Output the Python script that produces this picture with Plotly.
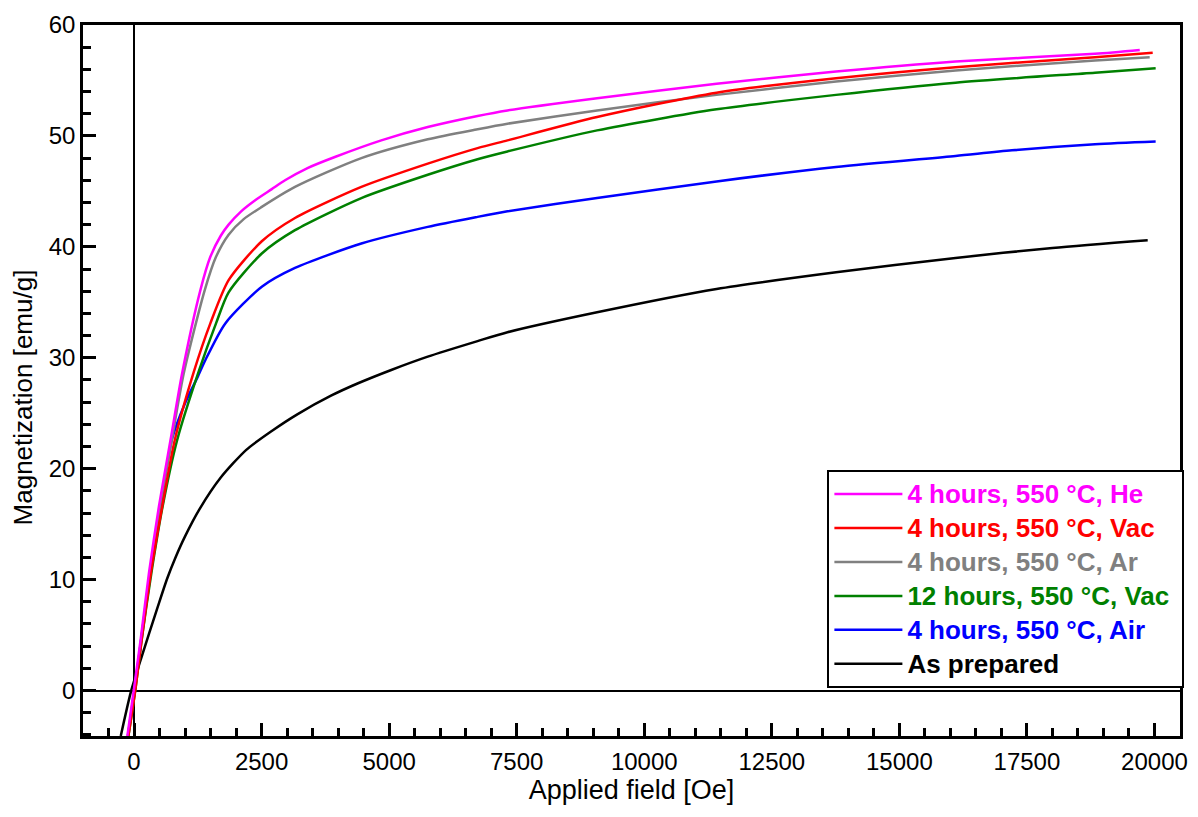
import plotly.graph_objects as go

# Magnetization curves M(H) for samples annealed under different atmospheres
field_he = [-130, 0, 130, 293, 488, 716, 943, 1301, 1496, 1700, 1854, 2100, 2375, 2700, 2960, 3400, 3936, 4846, 5757, 6733, 7319, 9075, 11417, 13759, 16101, 18833, 19711]
mag_he = [-4.1, 0.2, 4.6, 10.6, 16.6, 22.6, 28.6, 36.1, 39.1, 41.0, 42.0, 43.2, 44.2, 45.2, 46.0, 47.1, 48.1, 49.6, 50.8, 51.8, 52.3, 53.4, 54.7, 55.8, 56.7, 57.4, 57.75]

field_vac = [-110, 30, 150, 330, 553, 800, 1170, 1496, 1854, 2504, 3155, 4456, 5757, 6733, 7319, 9075, 11417, 13759, 16101, 18833, 19965]
mag_vac = [-4.1, 0.2, 4.6, 10.6, 16.6, 22.6, 28.7, 33.1, 37.0, 40.5, 42.6, 45.4, 47.5, 48.9, 49.6, 51.7, 53.9, 55.2, 56.2, 57.1, 57.5]

field_ar = [-120, 10, 140, 310, 510, 740, 975, 1386, 1607, 1854, 2150, 2504, 3155, 4456, 5757, 6733, 7319, 9075, 11417, 13759, 16101, 18833, 19906]
mag_ar = [-4.1, 0.2, 4.6, 10.6, 16.6, 22.6, 28.6, 36.1, 39.1, 41.1, 42.5, 43.6, 45.4, 48.0, 49.7, 50.6, 51.1, 52.3, 53.7, 54.9, 55.9, 56.8, 57.1]

field_vac12 = [-110, 30, 150, 340, 560, 846, 1270, 1607, 1854, 2504, 3155, 4456, 5757, 6733, 7319, 9075, 11417, 13759, 16101, 18833, 20023]
mag_vac12 = [-4.1, 0.2, 4.6, 10.6, 16.6, 22.6, 28.8, 33.1, 35.9, 39.4, 41.5, 44.4, 46.5, 47.9, 48.6, 50.5, 52.4, 53.7, 54.8, 55.7, 56.1]

field_air = [-120, 20, 140, 320, 520, 740, 1000, 1250, 1399, 1789, 2504, 3155, 4456, 5757, 6733, 7319, 9075, 11417, 13759, 16101, 17207, 18833, 20023]
mag_air = [-4.1, 0.2, 4.6, 10.6, 16.6, 22.6, 25.9, 28.3, 29.8, 33.1, 36.4, 38.1, 40.3, 41.8, 42.7, 43.2, 44.4, 45.9, 47.2, 48.2, 48.7, 49.25, 49.5]

field_prep = [-260, -60, 160, 293, 455, 650, 813, 1000, 1290, 1700, 2200, 2700, 3200, 3870, 4391, 5041, 5757, 6733, 7319, 9075, 11417, 13759, 16101, 18000, 19867]
mag_prep = [-4.1, -0.1, 3.2, 5.1, 7.4, 10.1, 12.0, 13.9, 16.4, 19.2, 21.7, 23.4, 24.9, 26.6, 27.7, 28.9, 30.1, 31.5, 32.3, 34.1, 36.2, 37.7, 39.0, 39.9, 40.6]

# drawing order: bottom-most first; legend lists them in reverse
series = [
    ("As prepared", field_prep, mag_prep, "#000000"),
    ("4 hours, 550 °C, Air", field_air, mag_air, "#0000FF"),
    ("12 hours, 550 °C, Vac", field_vac12, mag_vac12, "#008000"),
    ("4 hours, 550 °C, Ar", field_ar, mag_ar, "#808080"),
    ("4 hours, 550 °C, Vac", field_vac, mag_vac, "#FF0000"),
    ("4 hours, 550 °C, He", field_he, mag_he, "#FF00FF"),
]

x_title = "Applied field [Oe]"
y_title = "Magnetization [emu/g]"

FONT = "Liberation Sans, Arial, sans-serif"

fig = go.Figure()
for name, xs, ys, color in series:
    fig.add_trace(go.Scatter(
        x=xs, y=ys, mode="lines",
        line=dict(color=color, width=2.5, shape="spline", smoothing=0.7),
        name=f"<span style='font-size:26px;color:{color}'><b>{name}</b>\u00a0</span>",
    ))

tick_style = dict(
    showgrid=False,
    showline=True, linecolor="black", linewidth=2.5, mirror=True,
    ticks="inside", ticklen=13, tickwidth=2.5, tickcolor="black",
    zeroline=True, zerolinecolor="black", zerolinewidth=2,
    tickfont=dict(family=FONT, size=24, color="black"),
)

fig.update_xaxes(
    range=[-1000, 20500],
    tickmode="linear", tick0=0, dtick=2500, tickformat="d",
    minor=dict(ticks="inside", dtick=500, tick0=0, ticklen=8, tickwidth=2.5, tickcolor="black", showgrid=False),
    ticklabelstandoff=2,
    title=dict(text=x_title, font=dict(family=FONT, size=27, color="black"), standoff=0),
    **tick_style,
)
fig.update_yaxes(
    range=[-4.1, 60],
    tickmode="linear", tick0=0, dtick=10, tickformat="d",
    minor=dict(ticks="inside", dtick=2, tick0=0, ticklen=8, tickwidth=2.5, tickcolor="black", showgrid=False),
    **tick_style,
)

fig.update_layout(
    width=1198, height=817,
    margin=dict(l=83, r=10, t=25, b=81),
    paper_bgcolor="white", plot_bgcolor="white",
    font=dict(family=FONT, color="black"),
    annotations=[dict(
        text=y_title, textangle=-90,
        xref="paper", yref="paper", x=-0.0543, y=0.4768,
        xanchor="center", yanchor="middle", showarrow=False,
        font=dict(family=FONT, size=26, color="black"),
    )],
    legend=dict(
        x=1.004, xanchor="right", y=0.374, yanchor="top",
        traceorder="reversed",
        bgcolor="white", bordercolor="black", borderwidth=2,
        font=dict(family=FONT, size=23.8),
        itemwidth=68,
    ),
    showlegend=True,
)

fig.write_html("out.html")
